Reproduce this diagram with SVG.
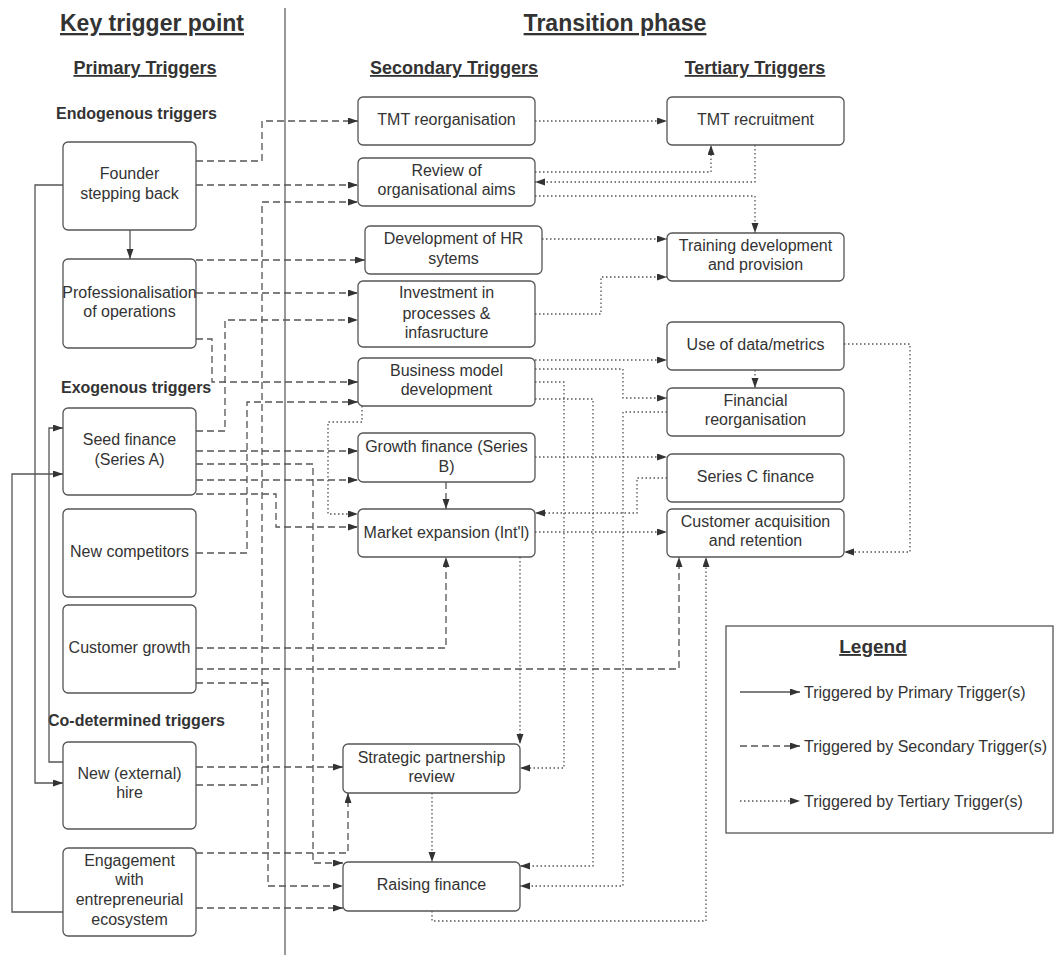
<svg xmlns="http://www.w3.org/2000/svg" width="1054" height="956" viewBox="0 0 1054 956">
<style>
text{font-family:"Liberation Sans",Arial,sans-serif;fill:#333;}
.n{font-size:16px;text-anchor:middle;}
.h1{font-size:23px;font-weight:bold;text-anchor:middle;text-decoration:underline;}
.h2{font-size:18px;font-weight:bold;text-anchor:middle;text-decoration:underline;}
.h3{font-size:16px;font-weight:bold;}
.box{fill:#fff;stroke:#555;stroke-width:1.3;}
.c{fill:none;stroke:#555;stroke-width:1.3;marker-end:url(#a);}
.d{stroke-dasharray:7 4;}
.t{stroke-dasharray:1.5 2.5;}
.lg{font-size:16px;}
</style>
<defs>
<marker id="a" markerWidth="10" markerHeight="8" refX="10" refY="3.5" orient="auto" markerUnits="userSpaceOnUse">
<path d="M0,0 L10,3.5 L0,7 z" fill="#333"/>
</marker>
</defs>
<rect width="1054" height="956" fill="#fff"/>
<line x1="285" y1="8" x2="285" y2="955" stroke="#555" stroke-width="1.2"/>
<g id="headers">
<text class="h1" x="152" y="31">Key trigger point</text>
<text class="h1" x="615" y="31">Transition phase</text>
<text class="h2" x="145" y="74">Primary Triggers</text>
<text class="h2" x="454" y="74">Secondary Triggers</text>
<text class="h2" x="755" y="74">Tertiary Triggers</text>
<text class="h3" x="56" y="119">Endogenous triggers</text>
<text class="h3" x="61" y="393">Exogenous triggers</text>
<text class="h3" x="48" y="726">Co-determined triggers</text>
</g>
<g id="connectors">
<!-- solid -->
<path class="c" d="M130,230 V259"/>
<path class="c" d="M63,185 H35 V783 H63"/>
<path class="c" d="M63,762 H49 V428 H63"/>
<path class="c" d="M63,912 H12 V474 H63"/>
<!-- dashed -->
<path class="c d" d="M196,161 H262 V121 H358"/>
<path class="c d" d="M196,185 H358"/>
<path class="c d" d="M196,785 H262 V202 H358"/>
<path class="c d" d="M196,260 H365"/>
<path class="c d" d="M196,293 H358"/>
<path class="c d" d="M196,339 H212 V382 H358"/>
<path class="c d" d="M196,431 H225 V320 H358"/>
<path class="c d" d="M196,451 H358"/>
<path class="c d" d="M196,464 H313 V863 H343"/>
<path class="c d" d="M196,480 H358"/>
<path class="c d" d="M196,494 H276 V527 H358"/>
<path class="c d" d="M196,553 H247 V402 H358"/>
<path class="c d" d="M196,648 H446 V557"/>
<path class="c d" d="M196,669 H679 V557"/>
<path class="c d" d="M196,683 H268 V886 H343"/>
<path class="c d" d="M196,767 H343"/>
<path class="c d" d="M196,853 H348 V793"/>
<path class="c d" d="M196,908 H343"/>
<path class="c d" d="M446,482 V509"/>
<!-- dotted -->
<path class="c t" d="M535,121 H667"/>
<path class="c t" d="M535,172 H711 V145"/>
<path class="c t" d="M755,145 V182 H535"/>
<path class="c t" d="M535,196 H755 V233"/>
<path class="c t" d="M542,239 H667"/>
<path class="c t" d="M535,314 H601 V277 H667"/>
<path class="c t" d="M535,360 H667"/>
<path class="c t" d="M535,369 H623 V398 H667"/>
<path class="c t" d="M535,382 H564 V768 H520"/>
<path class="c t" d="M535,399 H593 V866 H520"/>
<path class="c t" d="M362,406 V422 H328 V514 H358"/>
<path class="c t" d="M755,370 V388"/>
<path class="c t" d="M667,412 H623 V886 H520"/>
<path class="c t" d="M535,457 H667"/>
<path class="c t" d="M667,478 H637 V513 H535"/>
<path class="c t" d="M535,532 H667"/>
<path class="c t" d="M844,344 H910 V552 H844"/>
<path class="c t" d="M520,557 V744"/>
<path class="c t" d="M432,793 V862"/>
<path class="c t" d="M432,911 V921 H706 V557"/>
</g>
<g id="founder"><rect class="box" x="63" y="142" width="133" height="88" rx="5"/><text class="n" x="129.5" y="179">Founder</text><text class="n" x="129.5" y="199">stepping back</text></g>
<g id="prof"><rect class="box" x="63" y="259" width="133" height="89" rx="5"/><text class="n" x="129.5" y="298">Professionalisation</text><text class="n" x="129.5" y="317">of operations</text></g>
<g id="seed"><rect class="box" x="63" y="408" width="133" height="87" rx="5"/><text class="n" x="129.5" y="445">Seed finance</text><text class="n" x="129.5" y="465">(Series A)</text></g>
<g id="competitors"><rect class="box" x="63" y="509" width="133" height="88" rx="5"/><text class="n" x="129.5" y="557">New competitors</text></g>
<g id="custgrowth"><rect class="box" x="63" y="605" width="133" height="88" rx="5"/><text class="n" x="129.5" y="653">Customer growth</text></g>
<g id="hire"><rect class="box" x="63" y="742" width="133" height="87" rx="5"/><text class="n" x="129.5" y="779">New (external)</text><text class="n" x="129.5" y="798">hire</text></g>
<g id="engagement"><rect class="box" x="63" y="848" width="133" height="88" rx="5"/><text class="n" x="129.5" y="866">Engagement</text><text class="n" x="129.5" y="885">with</text><text class="n" x="129.5" y="905">entrepreneurial</text><text class="n" x="129.5" y="925">ecosystem</text></g>
<g id="tmtreorg"><rect class="box" x="358" y="97" width="177" height="48" rx="5"/><text class="n" x="446.5" y="125">TMT reorganisation</text></g>
<g id="review"><rect class="box" x="358" y="158" width="177" height="48" rx="5"/><text class="n" x="446.5" y="176">Review of</text><text class="n" x="446.5" y="195">organisational aims</text></g>
<g id="hr"><rect class="box" x="365" y="226" width="177" height="48" rx="5"/><text class="n" x="453.5" y="244">Development of HR</text><text class="n" x="453.5" y="264">sytems</text></g>
<g id="investment"><rect class="box" x="358" y="281" width="177" height="66" rx="5"/><text class="n" x="446.5" y="298">Investment in</text><text class="n" x="446.5" y="319">processes &amp;</text><text class="n" x="446.5" y="338">infasructure</text></g>
<g id="bmd"><rect class="box" x="358" y="358" width="177" height="48" rx="5"/><text class="n" x="446.5" y="376">Business model</text><text class="n" x="446.5" y="395">development</text></g>
<g id="growth"><rect class="box" x="358" y="433" width="177" height="49" rx="5"/><text class="n" x="446.5" y="452">Growth finance (Series</text><text class="n" x="446.5" y="472">B)</text></g>
<g id="market"><rect class="box" x="358" y="509" width="177" height="48" rx="5"/><text class="n" x="446.5" y="538">Market expansion (Int'l)</text></g>
<g id="strategic"><rect class="box" x="343" y="744" width="177" height="49" rx="5"/><text class="n" x="431.5" y="763">Strategic partnership</text><text class="n" x="431.5" y="782">review</text></g>
<g id="raising"><rect class="box" x="343" y="862" width="177" height="49" rx="5"/><text class="n" x="431.5" y="890">Raising finance</text></g>
<g id="tmtrec"><rect class="box" x="667" y="97" width="177" height="48" rx="5"/><text class="n" x="755.5" y="125">TMT recruitment</text></g>
<g id="training"><rect class="box" x="667" y="233" width="177" height="48" rx="5"/><text class="n" x="755.5" y="251">Training development</text><text class="n" x="755.5" y="270">and provision</text></g>
<g id="data"><rect class="box" x="667" y="322" width="177" height="48" rx="5"/><text class="n" x="755.5" y="350">Use of data/metrics</text></g>
<g id="finreorg"><rect class="box" x="667" y="388" width="177" height="48" rx="5"/><text class="n" x="755.5" y="406">Financial</text><text class="n" x="755.5" y="425">reorganisation</text></g>
<g id="seriesc"><rect class="box" x="667" y="454" width="177" height="48" rx="5"/><text class="n" x="755.5" y="482">Series C finance</text></g>
<g id="custacq"><rect class="box" x="667" y="509" width="177" height="48" rx="5"/><text class="n" x="755.5" y="527">Customer acquisition</text><text class="n" x="755.5" y="546">and retention</text></g>
<g id="legend">
<rect x="726" y="626" width="327" height="207" fill="#fff" stroke="#555" stroke-width="1.3"/>
<text x="873" y="653" style="font-size:19px;font-weight:bold;text-anchor:middle;text-decoration:underline;">Legend</text>
<path class="c" d="M740,692 H800"/>
<path class="c d" d="M740,746 H800"/>
<path class="c t" d="M740,801 H800"/>
<text class="lg" x="804" y="698">Triggered by Primary Trigger(s)</text>
<text class="lg" x="804" y="752">Triggered by Secondary Trigger(s)</text>
<text class="lg" x="804" y="807">Triggered by Tertiary Trigger(s)</text>
</g>
</svg>
